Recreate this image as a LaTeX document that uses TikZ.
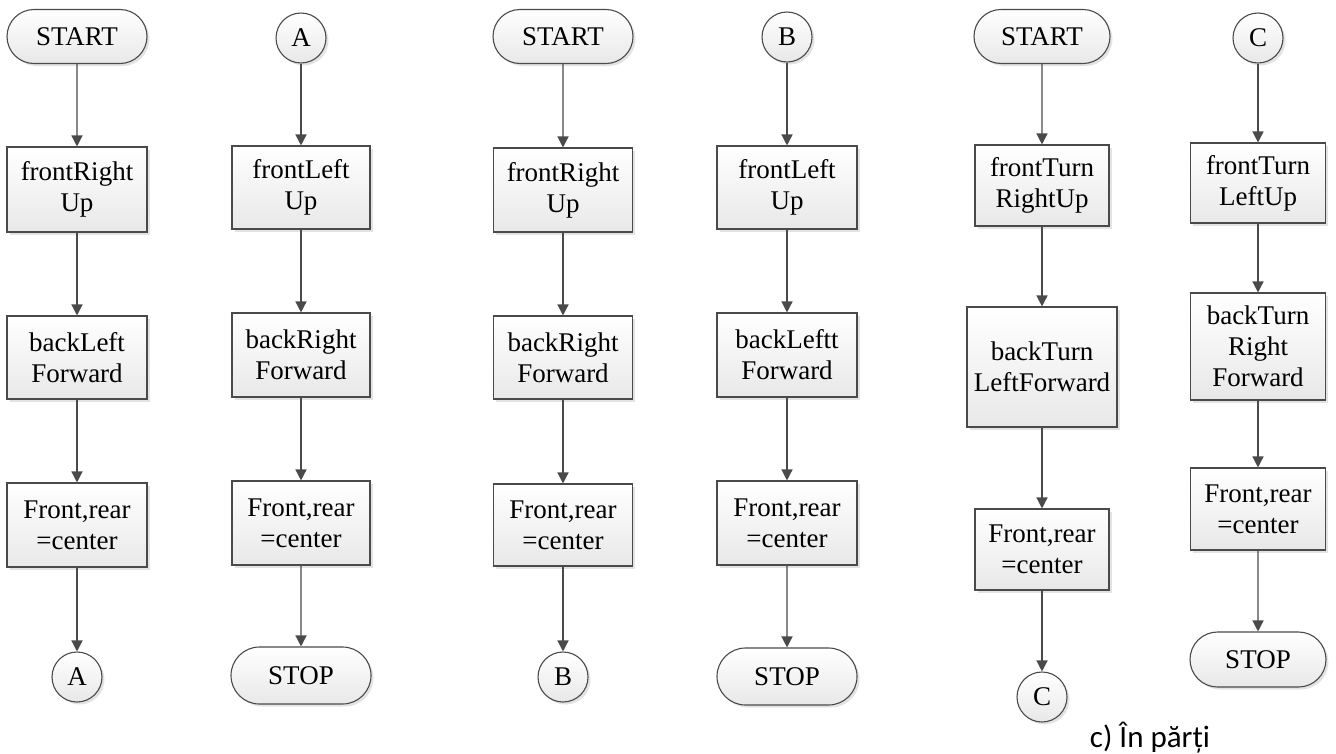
\documentclass[tikz,border=0pt]{standalone}
\usepackage{fontspec}
\setmainfont{Liberation Serif}
\newfontfamily\capfont{Carlito}
\usetikzlibrary{arrows.meta,shapes.misc,shadows}

\definecolor{edgegray}{HTML}{4A4A4A}
\tikzset{
	base/.style={draw=edgegray, line width=1.1pt, inner sep=0pt, align=center,
		top color=white, bottom color=black!9,
		drop shadow={shadow xshift=2.5pt, shadow yshift=-2.5pt, fill=black!22},
		font=\fontsize{27}{31}\selectfont},
	stepbox/.style={base, rectangle, minimum width=#1},
	stepbox/.default=139pt,
	term/.style={base, rounded rectangle, minimum width=140pt, minimum height=54pt},
	conn/.style={base, circle, minimum size=50pt},
	flow/.style={draw=edgegray, line width=1.4pt, -{Triangle[length=11pt,width=11pt]}}
}

\begin{document}
\begin{tikzpicture}[x=1pt,y=-1pt]
	\useasboundingbox (0,0) rectangle (1336,753);

	% column 1
	\node[term] (s1) at (77,36.5) {START};
	\node[stepbox=140pt, minimum height=85pt] (c1b1) at (77,189.5) {frontRight\\Up};
	\node[stepbox=140pt, minimum height=83pt] (c1b2) at (77,357.5) {backLeft\\Forward};
	\node[stepbox=140pt, minimum height=84pt] (c1b3) at (77,525) {Front,rear\\=center};
	\node[conn] (a1) at (77,677) {A};

	% column 2
	\node[conn] (a2) at (301,38) {A};
	\node[stepbox=138pt, minimum height=83pt] (c2b1) at (301,187.5) {frontLeft\\Up};
	\node[stepbox=138pt, minimum height=84pt] (c2b2) at (301,355) {backRight\\Forward};
	\node[stepbox=138pt, minimum height=84pt] (c2b3) at (301,523) {Front,rear\\=center};
	\node[term, minimum height=57pt] (p2) at (301,675.5) {STOP};

	% column 3
	\node[term] (s3) at (563,36.5) {START};
	\node[stepbox, minimum height=84pt] (c3b1) at (563,190) {frontRight\\Up};
	\node[stepbox, minimum height=83pt] (c3b2) at (563,357.5) {backRight\\Forward};
	\node[stepbox, minimum height=82pt] (c3b3) at (563,525) {Front,rear\\=center};
	\node[conn] (b3) at (563,677) {B};

	% column 4
	\node[conn] (b4) at (787,37) {B};
	\node[stepbox=140pt, minimum height=83pt] (c4b1) at (787,187.5) {frontLeft\\Up};
	\node[stepbox=140pt, minimum height=84pt] (c4b2) at (787,355) {backLeftt\\Forward};
	\node[stepbox=140pt, minimum height=84pt] (c4b3) at (787,523) {Front,rear\\=center};
	\node[term, minimum height=57pt] (p4) at (787,676.5) {STOP};

	% column 5
	\node[term, minimum width=136pt] (s5) at (1042,36.5) {START};
	\node[stepbox=134pt, minimum height=81pt] (c5b1) at (1042,185.5) {frontTurn\\RightUp};
	\node[stepbox=150pt, minimum height=120pt] (c5b2) at (1042,367) {backTurn\\LeftForward};
	\node[stepbox=134pt, minimum height=81pt] (c5b3) at (1042,549.5) {Front,rear\\=center};
	\node[conn] (c5) at (1042,697) {C};

	% column 6
	\node[conn] (c6) at (1258,38) {C};
	\node[stepbox=135pt, minimum height=80pt] (c6b1) at (1258,183) {frontTurn\\LeftUp};
	\node[stepbox=135pt, minimum height=107pt] (c6b2) at (1258,346.5) {backTurn\\Right\\Forward};
	\node[stepbox=135pt, minimum height=82pt] (c6b3) at (1258,509) {Front,rear\\=center};
	\node[term, minimum width=136pt, minimum height=55pt] (p6) at (1258,659.5) {STOP};

	\foreach \a/\b in {s1/c1b1,c1b1/c1b2,c1b2/c1b3,c1b3/a1,
		a2/c2b1,c2b1/c2b2,c2b2/c2b3,c2b3/p2,
		s3/c3b1,c3b1/c3b2,c3b2/c3b3,c3b3/b3,
		b4/c4b1,c4b1/c4b2,c4b2/c4b3,c4b3/p4,
		s5/c5b1,c5b1/c5b2,c5b2/c5b3,c5b3/c5,
		c6/c6b1,c6b1/c6b2,c6b2/c6b3,c6b3/p6}
		\draw[flow] (\a) -- (\b);

	\node[font=\capfont\fontsize{31}{36}\selectfont, anchor=base] (cap) at (1150,747) {c) În părți};
\end{tikzpicture}
\end{document}
